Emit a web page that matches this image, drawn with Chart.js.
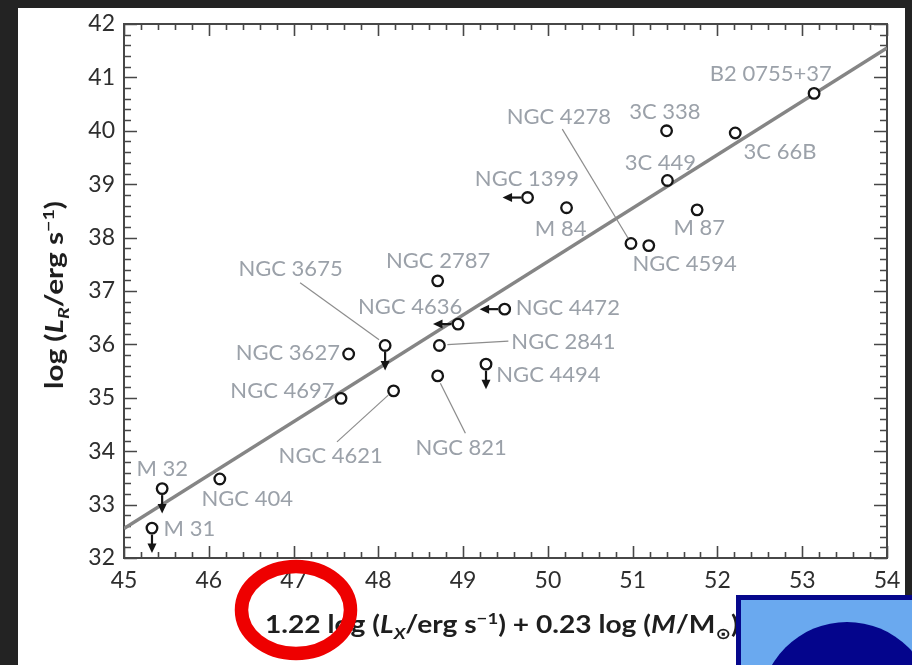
<!DOCTYPE html>
<html>
<head>
<meta charset="utf-8">
<script src="https://cdn.jsdelivr.net/npm/chart.js@4.4.1/dist/chart.umd.min.js"></script>
<style>
  html, body { margin: 0; padding: 0; background: #232323; }
  #wrap { width: 912px; height: 665px; position: relative; }
  canvas { display: block; }
</style>
</head>
<body>
<div id="wrap"><canvas id="c" width="912" height="665"></canvas></div>
<script>
// Radio vs. combined X-ray / mass luminosity of nearby galaxies
const galaxies = ['M 31', 'M 32', 'NGC 404', 'NGC 4697', 'NGC 4621', 'NGC 3627', 'NGC 3675',
  'NGC 2787', 'NGC 4636', 'NGC 2841', 'NGC 821', 'NGC 4494', 'NGC 4472', 'NGC 1399', 'M 84',
  'NGC 4278', 'NGC 4594', '3C 338', '3C 449', 'M 87', '3C 66B', 'B2 0755+37'];
const xValues = [45.33, 45.45, 46.13, 47.56, 48.18, 47.65, 48.08,
  48.70, 48.94, 48.72, 48.70, 49.27, 49.49, 49.76, 50.22,
  50.98, 51.19, 51.40, 51.41, 51.76, 52.21, 53.14];
const yValues = [32.56, 33.30, 33.48, 34.99, 35.13, 35.82, 35.98,
  37.19, 36.38, 35.98, 35.41, 35.63, 36.66, 38.75, 38.56,
  37.89, 37.85, 40.00, 39.07, 38.52, 39.96, 40.70];
// upper limits: 'down' = radio limit, 'left' = X-ray limit
const limitTypes = ['down', 'down', '', '', '', '', 'down',
  '', 'left', '', '', 'down', 'left', 'left', '',
  '', '', '', '', '', '', ''];
// best-fit relation
const fitX = [45, 54];
const fitY = [32.55, 41.55];
// axis ticks
const xTickValues = [45, 46, 47, 48, 49, 50, 51, 52, 53, 54];
const yTickValues = [32, 33, 34, 35, 36, 37, 38, 39, 40, 41, 42];

// label placement relative to each marker (pixels): [dx, dy] of text left edge / middle
const labelOffsets = {
  'M 31': [11.6, 1], 'M 32': [-25.6, -20], 'NGC 404': [-18.3, 20],
  'NGC 4697': [-110.7, -7.6], 'NGC 4621': [-115, 65.3], 'NGC 3627': [-113, -1.3],
  'NGC 3675': [-146.7, -76.4], 'NGC 2787': [-51.7, -20], 'NGC 4636': [-100, -17.6],
  'NGC 2841': [72, -3.3], 'NGC 821': [-22.3, 71.6], 'NGC 4494': [10.3, 10.7],
  'NGC 4472': [11, -1.7], 'NGC 1399': [-52.7, -18.4], 'M 84': [-31.7, 21.6],
  'NGC 4278': [-124.3, -126.6], 'NGC 4594': [-16.3, 18.3], '3C 338': [-37.4, -19],
  '3C 449': [-42.7, -18], 'M 87': [-23.7, 17.7], '3C 66B': [8.3, 19],
  'B2 0755+37': [-104.3, -19.3]
};
// leader lines from marker (pixel offsets start -> end)
const leaderLines = {
  'NGC 3675': [-6, -5.7, -85, -62.7],
  'NGC 2841': [8, -0.8, 69, -4.3],
  'NGC 821': [2.7, 7.3, 27.7, 57.3],
  'NGC 4621': [-5.3, 4.3, -56.6, 51],
  'NGC 4278': [-2.7, -5, -68.7, -114.3]
};

const FONT = 'Lato, "DejaVu Sans", sans-serif';
const INK = '#474747';

function drawRich(ctx, segs, x, y, size) {
  let cx = x;
  for (const s of segs) {
    const fs = (s.sub || s.sup) ? size * 0.66 : size;
    ctx.font = (s.italic ? 'italic ' : '') + 'bold ' + fs + 'px ' + FONT;
    const dy = s.sub ? size * 0.24 : (s.sup ? -size * 0.38 : 0);
    ctx.fillText(s.t, cx, y + dy);
    cx += ctx.measureText(s.t).width;
  }
  return cx - x;
}
function richWidth(ctx, segs, size) {
  let w = 0;
  for (const s of segs) {
    const fs = (s.sub || s.sup) ? size * 0.66 : size;
    ctx.font = (s.italic ? 'italic ' : '') + 'bold ' + fs + 'px ' + FONT;
    w += ctx.measureText(s.t).width;
  }
  return w;
}

const xTitle = [
  { t: '1.22 log (' }, { t: 'L', italic: true }, { t: 'X', italic: true, sub: true },
  { t: '/erg s' }, { t: '\u22121', sup: true }, { t: ') + 0.23 log (' },
  { t: 'M', italic: true }, { t: '/M' }, { t: '\u2299', sub: true }, { t: ')' }
];
const yTitle = [
  { t: 'log (' }, { t: 'L', italic: true }, { t: 'R', italic: true, sub: true },
  { t: '/erg s' }, { t: '\u22121', sup: true }, { t: ')' }
];

const pagePlugin = {
  id: 'page',
  beforeDraw(chart) {
    const ctx = chart.ctx;
    ctx.save();
    ctx.fillStyle = '#232323';
    ctx.fillRect(0, 0, 912, 665);
    ctx.fillStyle = '#ffffff';
    ctx.fillRect(18, 8, 887, 657);
    ctx.restore();
  },
  beforeDatasetsDraw(chart) {
    const ctx = chart.ctx;
    const xs = chart.scales.x, ys = chart.scales.y;
    const a = chart.chartArea;
    ctx.save();
    ctx.strokeStyle = INK;
    ctx.lineWidth = 1.6;
    // x ticks (bottom and top, pointing inward)
    for (let i = 0; i <= 45; i++) {
      const v = 45 + i * 0.2;
      const px = Math.round(xs.getPixelForValue(v)) + 0.5;
      const len = (i % 5 === 0) ? 12 : 6;
      ctx.beginPath();
      ctx.moveTo(px, a.bottom); ctx.lineTo(px, a.bottom - len);
      ctx.moveTo(px, a.top); ctx.lineTo(px, a.top + len);
      ctx.stroke();
    }
    // y ticks (left and right, pointing inward)
    for (let i = 0; i <= 50; i++) {
      const v = 32 + i * 0.2;
      const py = Math.round(ys.getPixelForValue(v)) + 0.5;
      const len = (i % 5 === 0) ? 13 : 7;
      ctx.beginPath();
      ctx.moveTo(a.left, py); ctx.lineTo(a.left + len, py);
      ctx.moveTo(a.right, py); ctx.lineTo(a.right - len, py);
      ctx.stroke();
    }
    ctx.lineWidth = 2;
    ctx.strokeRect(a.left, a.top, a.right - a.left, a.bottom - a.top);
    ctx.restore();
  },
  afterDatasetsDraw(chart) {
    const ctx = chart.ctx;
    const xs = chart.scales.x, ys = chart.scales.y;
    ctx.save();
    // limit arrows
    ctx.fillStyle = '#151515';
    ctx.strokeStyle = '#151515';
    ctx.lineWidth = 2.2;
    galaxies.forEach((g, i) => {
      const px = xs.getPixelForValue(xValues[i]);
      const py = ys.getPixelForValue(yValues[i]);
      if (limitTypes[i] === 'down') {
        ctx.beginPath(); ctx.moveTo(px, py + 6.5); ctx.lineTo(px, py + 17); ctx.stroke();
        ctx.beginPath(); ctx.moveTo(px - 4.5, py + 15.5); ctx.lineTo(px + 4.5, py + 15.5);
        ctx.lineTo(px, py + 25); ctx.closePath(); ctx.fill();
      } else if (limitTypes[i] === 'left') {
        ctx.beginPath(); ctx.moveTo(px - 6.5, py); ctx.lineTo(px - 17, py); ctx.stroke();
        ctx.beginPath(); ctx.moveTo(px - 15.5, py - 4.5); ctx.lineTo(px - 15.5, py + 4.5);
        ctx.lineTo(px - 25, py); ctx.closePath(); ctx.fill();
      }
    });
    // leader lines
    ctx.strokeStyle = '#8d8d8d';
    ctx.lineWidth = 1.2;
    galaxies.forEach((g, i) => {
      const l = leaderLines[g];
      if (!l) return;
      const px = xs.getPixelForValue(xValues[i]);
      const py = ys.getPixelForValue(yValues[i]);
      ctx.beginPath();
      ctx.moveTo(px + l[0], py + l[1]);
      ctx.lineTo(px + l[2], py + l[3]);
      ctx.stroke();
    });
    // galaxy names
    ctx.fillStyle = '#9ba1a9';
    ctx.font = '22px ' + FONT;
    ctx.textAlign = 'left';
    ctx.textBaseline = 'middle';
    galaxies.forEach((g, i) => {
      const o = labelOffsets[g];
      const px = xs.getPixelForValue(xValues[i]);
      const py = ys.getPixelForValue(yValues[i]);
      ctx.fillText(g, px + o[0], py + o[1]);
    });
    ctx.restore();
  },
  afterDraw(chart) {
    const ctx = chart.ctx;
    ctx.save();
    ctx.fillStyle = '#1e1e1e';
    ctx.textAlign = 'left';
    ctx.textBaseline = 'alphabetic';
    // x-axis title, fitted to its width up to the solar symbol
    const size = 24;
    const wFull = richWidth(ctx, xTitle.slice(0, 9), size);
    const sx = 466 / wFull;
    ctx.save();
    ctx.translate(265, 633);
    ctx.scale(sx, 1);
    drawRich(ctx, xTitle, 0, 0, size);
    ctx.restore();
    // y-axis title, rotated
    const wy = richWidth(ctx, yTitle, size);
    const sy = 188 / wy;
    ctx.save();
    ctx.translate(63, 389);
    ctx.rotate(-Math.PI / 2);
    ctx.scale(sy, 1);
    drawRich(ctx, yTitle, 0, 0, size);
    ctx.restore();

    // red ring highlight
    ctx.strokeStyle = '#ee0000';
    ctx.lineWidth = 13.5;
    ctx.beginPath();
    ctx.ellipse(296, 610, 54.5, 43.5, 0, 0, Math.PI * 2);
    ctx.stroke();

    // blue badge in the corner
    ctx.fillStyle = '#06088c';
    ctx.fillRect(736, 595, 176, 70);
    ctx.fillStyle = '#6aa9ef';
    ctx.fillRect(741, 600, 171, 65);
    ctx.save();
    ctx.beginPath();
    ctx.rect(741, 600, 171, 65);
    ctx.clip();
    ctx.fillStyle = '#04058c';
    ctx.beginPath();
    ctx.arc(847, 709, 87, 0, Math.PI * 2);
    ctx.fill();
    ctx.restore();
    ctx.restore();
  }
};

const points = galaxies.map((g, i) => ({ x: xValues[i], y: yValues[i] }));
const fitLine = fitX.map((x, i) => ({ x: x, y: fitY[i] }));

new Chart(document.getElementById('c'), {
  type: 'scatter',
  data: {
    datasets: [
      {
        label: 'galaxies',
        data: points,
        order: 0,
        pointStyle: 'circle',
        pointRadius: 5.3,
        pointHoverRadius: 5.3,
        pointBorderWidth: 2.3,
        pointBackgroundColor: '#ffffff',
        pointBorderColor: '#151515'
      },
      {
        label: 'fit',
        type: 'line',
        data: fitLine,
        order: 1,
        showLine: true,
        borderColor: '#858585',
        borderWidth: 3.5,
        pointRadius: 0,
        fill: false
      }
    ]
  },
  options: {
    responsive: false,
    animation: false,
    devicePixelRatio: 1,
    layout: { padding: { top: 24, right: 25, left: 0, bottom: 0 } },
    plugins: { legend: { display: false }, tooltip: { enabled: false } },
    scales: {
      x: {
        type: 'linear', min: 45, max: 54,
        afterFit(s) { s.height = 107; },
        afterBuildTicks(s) { s.ticks = xTickValues.map(v => ({ value: v })); },
        grid: { display: false, drawTicks: false },
        border: { display: false },
        ticks: { padding: 9, color: '#2e2e2e', font: { family: FONT, size: 23 }, maxRotation: 0 }
      },
      y: {
        type: 'linear', min: 32, max: 42,
        afterFit(s) { s.width = 124; },
        afterBuildTicks(s) { s.ticks = yTickValues.map(v => ({ value: v })); },
        grid: { display: false, drawTicks: false },
        border: { display: false },
        ticks: { padding: 9, color: '#2e2e2e', font: { family: FONT, size: 23 } }
      }
    }
  },
  plugins: [pagePlugin]
});
</script>
</body>
</html>
